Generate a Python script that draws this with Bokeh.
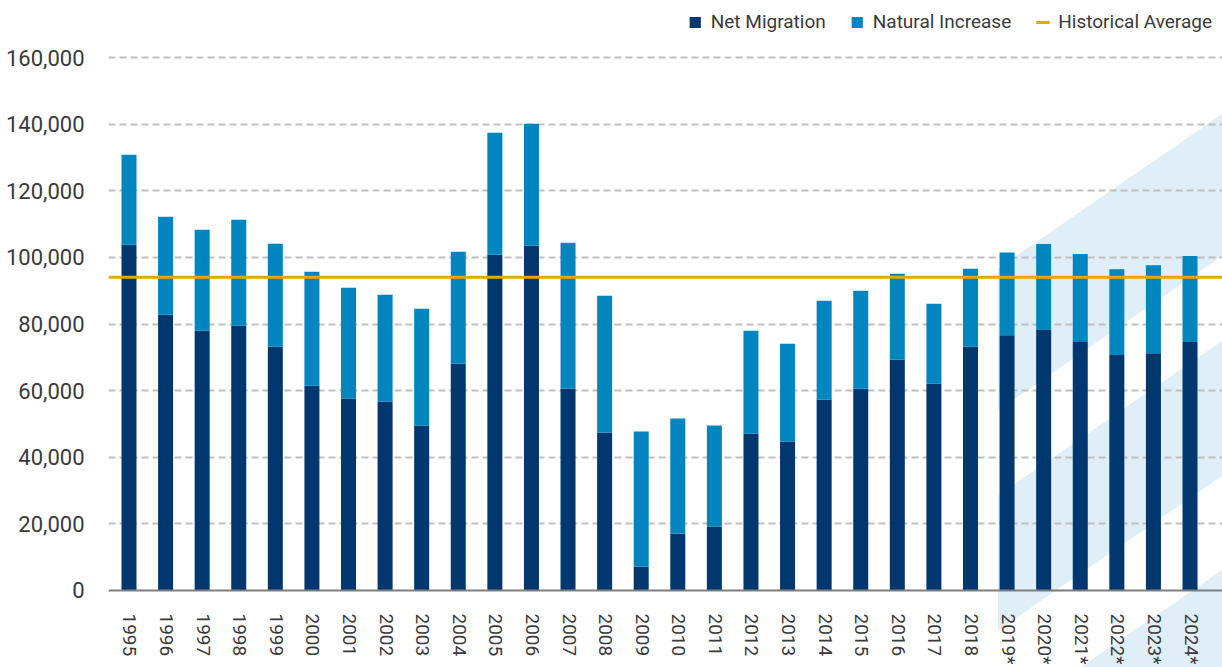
import math
from bokeh.plotting import figure
from bokeh.models import Range1d, FixedTicker, NumeralTickFormatter, Span, Legend, LegendItem, ColumnDataSource
from bokeh.core.properties import value
from bokeh.embed import file_html
from bokeh.resources import INLINE

# ---------------- data ----------------
YEARS = ["1995", "1996", "1997", "1998", "1999", "2000", "2001", "2002", "2003", "2004",
         "2005", "2006", "2007", "2008", "2009", "2010", "2011", "2012", "2013", "2014",
         "2015", "2016", "2017", "2018", "2019*", "2020*", "2021*", "2022*", "2023*", "2024*"]
NET_MIGRATION = [103800, 82800, 78000, 79500, 73200, 61500, 57600, 56700, 49500, 68100,
                 100800, 103500, 60600, 47400, 7200, 17100, 19200, 47100, 44700, 57300,
                 60600, 69300, 62100, 73200, 76600, 78200, 74600, 70700, 71200, 74600]
TOTAL_GROWTH = [130800, 112200, 108300, 111300, 104100, 95700, 90900, 88800, 84600, 101700,
                137400, 140100, 104400, 88500, 47700, 51600, 49500, 78000, 74100, 87000,
                90000, 95100, 86100, 96600, 101500, 104000, 101000, 96400, 97600, 100400]
NATURAL_INCREASE = [t - n for t, n in zip(TOTAL_GROWTH, NET_MIGRATION)]
HISTORICAL_AVERAGE = 94000
Y_TICKS = [0, 20000, 40000, 60000, 80000, 100000, 120000, 140000, 160000]
FORECAST_START = "2019*"

# ---------------- styles ----------------
NAVY = "#00376E"
BLUE = "#0085BE"
GOLD = "#E8A615"
STRIPE = "#DFEEF7"
TEXT = "#3A3A3A"
FONT = "Roboto"

W, H = 1222, 667
x_lo, x_hi = -0.560, 29.888
y_lo, y_hi = -23115, 177112

p = figure(width=W, height=H, output_backend="svg", toolbar_location=None,
           x_range=Range1d(x_lo, x_hi), y_range=Range1d(y_lo, y_hi),
           x_axis_location=None, min_border_left=108, min_border_right=0,
           min_border_top=0, min_border_bottom=0)
p.outline_line_color = None
p.background_fill_color = "white"
p.border_fill_color = "white"

xs = list(range(len(YEARS)))

# forecast stripes (decoration)
x0 = YEARS.index(FORECAST_START) - 0.25
x1 = x_hi + 2
slope = 7578.0
bands = [(96660, 54030), (28520, -12010), (-40230, -82250)]
rise = slope * (x1 - x0)
p.patches(xs=[[x0, x1, x1, x0] for _ in bands],
          ys=[[top, top + rise, bot + rise, bot] for top, bot in bands],
          fill_color=STRIPE, line_color=None, level="image")

src = ColumnDataSource(dict(x=xs, net=NET_MIGRATION, total=TOTAL_GROWTH,
                            nat=NATURAL_INCREASE, label=YEARS))
r_net = p.vbar(x="x", bottom=0, top="net", width=0.41, source=src,
               fill_color=NAVY, line_color=None)
r_nat = p.vbar(x="x", bottom="net", top="total", width=0.41, source=src,
               fill_color=BLUE, line_color=None)
r_avg = p.line(x=[x_lo, x_hi], y=[HISTORICAL_AVERAGE, HISTORICAL_AVERAGE],
               line_color=GOLD, line_width=3)

p.add_layout(Span(location=0, dimension="width", line_color="#7F7F7F", line_width=2))

# x labels (rotated, reading top to bottom)
p.text(x="x", y=0, text="label", source=src, angle=-math.pi / 2,
       text_align="left", text_baseline="middle", y_offset=23, x_offset=1,
       text_font=value(FONT), text_font_size="19px", text_color=TEXT)

# y axis
p.yaxis.ticker = FixedTicker(ticks=Y_TICKS)
p.yaxis.formatter = NumeralTickFormatter(format="0,0")
p.yaxis.axis_line_color = None
p.yaxis.major_tick_line_color = None
p.yaxis.minor_tick_line_color = None
p.yaxis.major_label_standoff = 18
p.yaxis.major_label_text_font = FONT
p.yaxis.major_label_text_font_size = "22px"
p.yaxis.major_label_text_color = TEXT

p.xgrid.visible = False
p.ygrid.ticker = FixedTicker(ticks=Y_TICKS[1:])
p.ygrid.grid_line_color = "#BFBFBF"
p.ygrid.grid_line_dash = "7 4"
p.ygrid.grid_line_width = 2

legend = Legend(items=[LegendItem(label="Net Migration", renderers=[r_net]),
                       LegendItem(label="Natural Increase", renderers=[r_nat]),
                       LegendItem(label="Historical Average", renderers=[r_avg])],
                orientation="horizontal", location="top_right",
                margin=10, padding=0, spacing=24, label_standoff=9,
                glyph_width=14, glyph_height=14,
                label_text_font=FONT, label_text_font_size="19px",
                label_text_color=TEXT, border_line_color=None,
                background_fill_alpha=0)
p.add_layout(legend)

open("out.html", "w").write(file_html(p, INLINE))
